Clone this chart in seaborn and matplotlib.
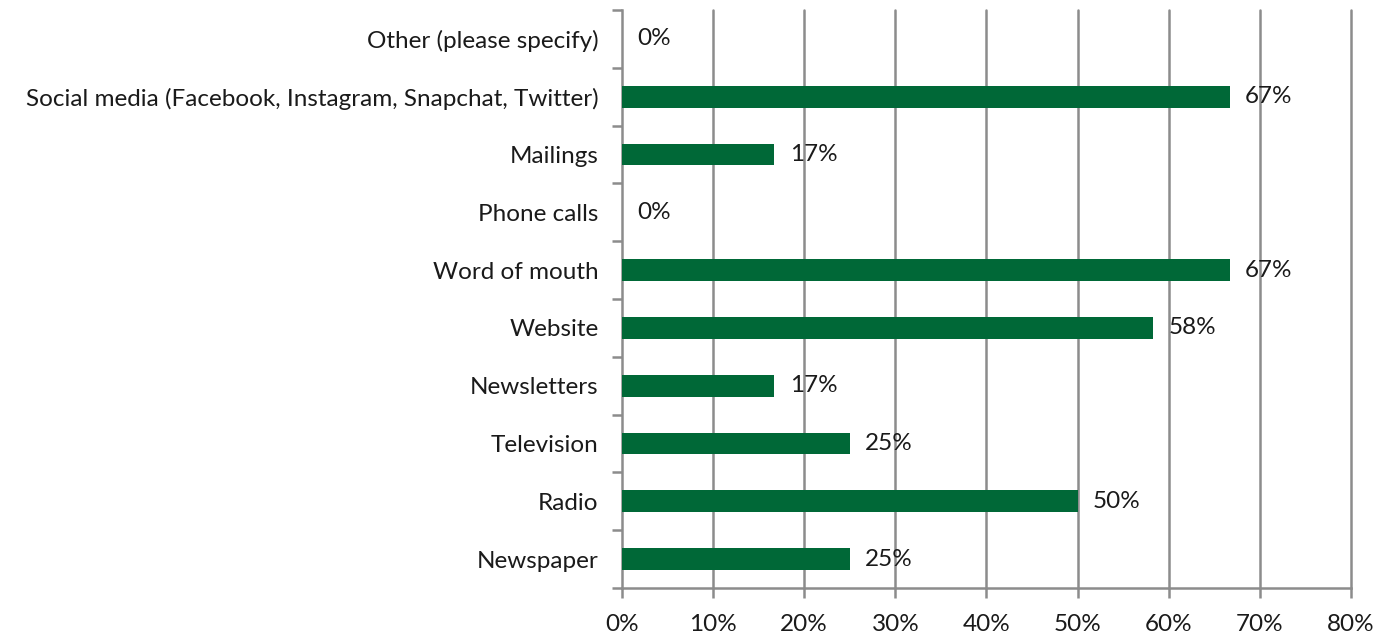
import matplotlib
matplotlib.use("Agg")
import matplotlib.pyplot as plt
import seaborn as sns
import pandas as pd
import numpy as np

categories = [
    "Other (please specify)",
    "Social media (Facebook, Instagram, Snapchat, Twitter)",
    "Mailings",
    "Phone calls",
    "Word of mouth",
    "Website",
    "Newsletters",
    "Television",
    "Radio",
    "Newspaper",
]
values = [0, 66.7, 16.7, 0, 66.7, 58.3, 16.7, 25, 50, 25]
x_ticks = [0, 10, 20, 30, 40, 50, 60, 70, 80]
x_tick_labels = [f"{t}%" for t in x_ticks]

df = pd.DataFrame({"category": categories, "value": values})

sns.set_style("white")
plt.rcParams["font.family"] = ["Lato", "DejaVu Sans"]

fig = plt.figure(figsize=(13.89, 6.36), dpi=100)
ax = fig.add_axes([0.4478, 0.0755, 0.5248, 0.9088])

bar_color = "#006837"
grid_color = "#8c8c8c"
text_color = "#1a1a1a"
fs = 17.5

sns.barplot(data=df, x="value", y="category", order=categories,
            color=bar_color, saturation=1, width=0.38, linewidth=0,
            ax=ax, zorder=3)

ax.set_xlim(0, 80)
ax.set_ylim(len(categories) - 0.5, -0.5)
ax.set_xlabel("")
ax.set_ylabel("")

# vertical gridlines
for t in x_ticks[1:]:
    ax.axvline(t, color=grid_color, lw=1.8, zorder=1, clip_on=False)

ax.set_xticks(x_ticks)
ax.set_xticklabels(x_tick_labels, fontsize=fs, color=text_color)
ax.tick_params(axis="x", bottom=True, direction="out", length=7, width=1.8,
               color=grid_color, pad=12)

# category labels at bar centres, tick marks at category boundaries
ax.set_yticks(np.arange(len(categories)))
ax.set_yticklabels(categories, fontsize=fs, color=text_color)
ax.tick_params(axis="y", which="major", left=True, length=0, pad=17)
ax.set_yticks(np.arange(-0.5, len(categories)), minor=True)
ax.tick_params(axis="y", which="minor", left=True, direction="out", length=7,
               width=1.8, color=grid_color)

for side in ["top", "right"]:
    ax.spines[side].set_visible(False)
for side in ["left", "bottom"]:
    ax.spines[side].set_color(grid_color)
    ax.spines[side].set_linewidth(1.8)

# value labels
for i, v in enumerate(values):
    ax.text(v + 1.7, i, f"{v:.0f}%", va="center", ha="left",
            fontsize=fs, color=text_color, zorder=4)

fig.savefig("out.png", dpi=100)
